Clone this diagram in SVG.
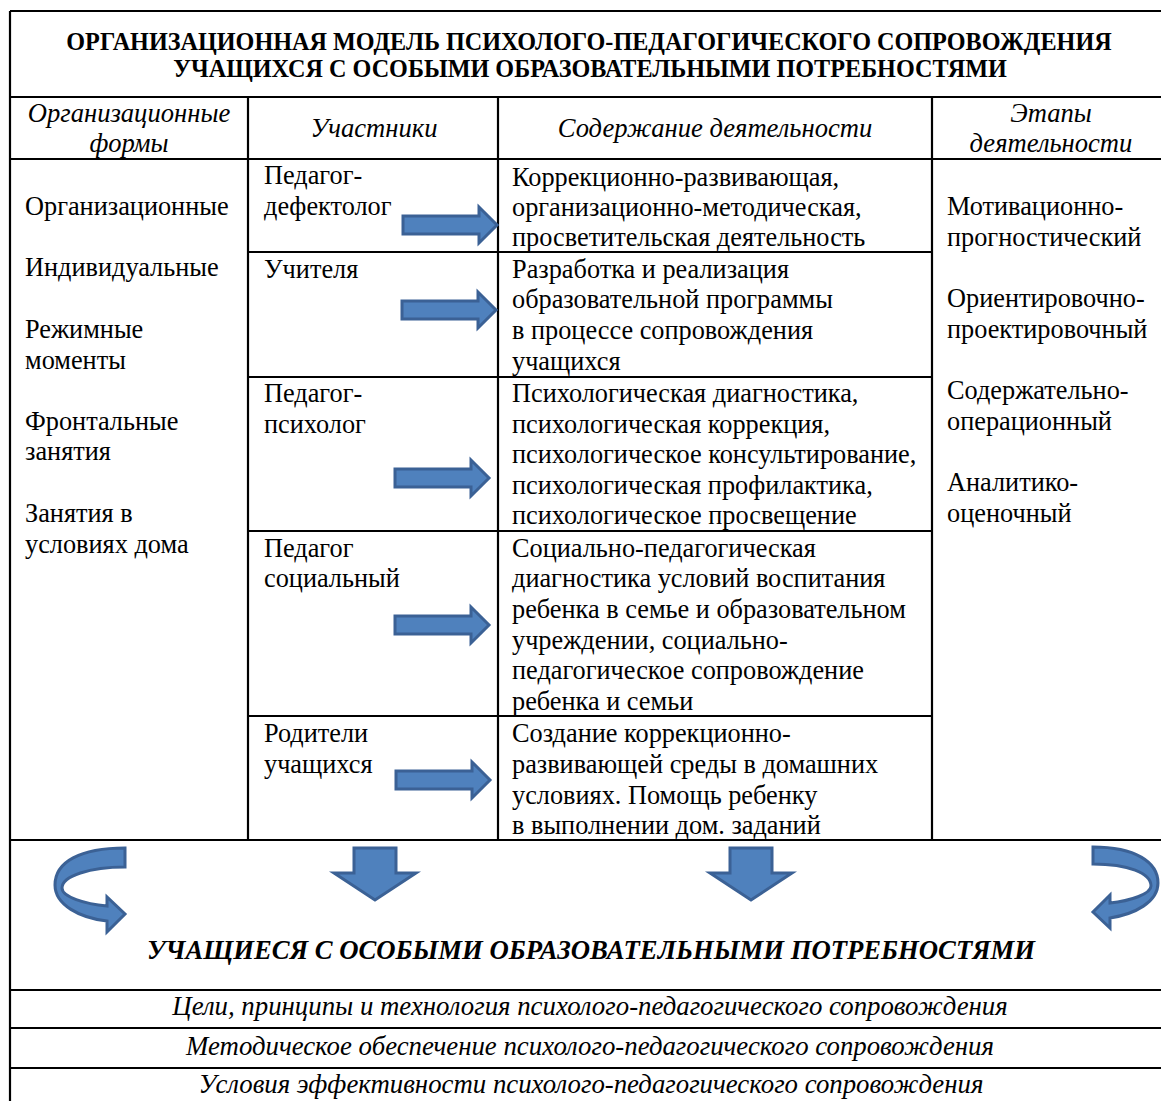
<svg xmlns="http://www.w3.org/2000/svg" width="1161" height="1101" viewBox="0 0 1161 1101">
<style>
.t{font-family:"Liberation Serif","Times New Roman",serif;font-size:26.3px;fill:#000}
.h{font-family:"Liberation Serif","Times New Roman",serif;font-size:26.6px;font-style:italic;fill:#000}
.ttl{font-family:"Liberation Serif","Times New Roman",serif;font-size:24.2px;font-weight:bold;fill:#000}
.big{font-family:"Liberation Serif","Times New Roman",serif;font-size:26.7px;font-weight:bold;font-style:italic;fill:#000}
.f{font-family:"Liberation Serif","Times New Roman",serif;font-size:26.8px;font-style:italic;fill:#000}
.ln{stroke:#000;stroke-width:2.2;fill:none}
.ar{fill:#4F81BD;stroke:#3B6195;stroke-width:3;stroke-linejoin:miter}
</style>
<defs>
<path id="ra" d="M0,-9 L76,-9 L76,-18 L94,0 L76,18 L76,9 L0,9 Z"/>
<path id="da" d="M-21,0 L21,0 L21,25 L41,25 L0,52 L-41,25 L-21,25 Z"/>
</defs>
<rect width="1161" height="1101" fill="#fff"/>
<g id="grid">
<path class="ln" d="M10,11 H1161 M10,11 V1101 M10,97 H1161 M10,159 H1161 M248,97 V840 M498,97 V840 M932,97 V840 M248,252 H932 M248,377 H932 M248,531 H932 M248,716 H932 M10,840 H1161 M10,990 H1161 M10,1028 H1161 M10,1068 H1161"/>
</g>
<g id="title">
<text class="ttl" x="589" y="50" text-anchor="middle">ОРГАНИЗАЦИОННАЯ МОДЕЛЬ ПСИХОЛОГО-ПЕДАГОГИЧЕСКОГО СОПРОВОЖДЕНИЯ</text>
<text class="ttl" x="590" y="77" text-anchor="middle">УЧАЩИХСЯ С ОСОБЫМИ ОБРАЗОВАТЕЛЬНЫМИ ПОТРЕБНОСТЯМИ</text>
</g>
<g id="head-forms"><text class="h" x="129" y="122" text-anchor="middle">Организационные</text><text class="h" x="129" y="152" text-anchor="middle">формы</text></g>
<g id="head-part"><text class="h" x="374" y="137" text-anchor="middle">Участники</text></g>
<g id="head-content"><text class="h" x="715" y="137" text-anchor="middle">Содержание деятельности</text></g>
<g id="head-stages"><text class="h" x="1051" y="122" text-anchor="middle">Этапы</text><text class="h" x="1051" y="152" text-anchor="middle">деятельности</text></g>
<g id="forms">
<text class="t" x="25" y="215">Организационные</text>
<text class="t" x="25" y="276">Индивидуальные</text>
<text class="t" x="25" y="338">Режимные</text>
<text class="t" x="25" y="369">моменты</text>
<text class="t" x="25" y="430">Фронтальные</text>
<text class="t" x="25" y="460">занятия</text>
<text class="t" x="25" y="522">Занятия в</text>
<text class="t" x="25" y="553">условиях дома</text>
</g>
<g id="p1"><text class="t" x="264" y="184">Педагог-</text><text class="t" x="264" y="215">дефектолог</text></g>
<g id="p2"><text class="t" x="264" y="278">Учителя</text></g>
<g id="p3"><text class="t" x="264" y="402">Педагог-</text><text class="t" x="264" y="433">психолог</text></g>
<g id="p4"><text class="t" x="264" y="557">Педагог</text><text class="t" x="264" y="587">социальный</text></g>
<g id="p5"><text class="t" x="264" y="742">Родители</text><text class="t" x="264" y="773">учащихся</text></g>
<g id="c1">
<text class="t" x="512" y="186">Коррекционно-развивающая,</text>
<text class="t" x="512" y="216">организационно-методическая,</text>
<text class="t" x="512" y="246">просветительская деятельность</text>
</g>
<g id="c2">
<text class="t" x="512" y="278">Разработка и реализация</text>
<text class="t" x="512" y="308">образовательной программы</text>
<text class="t" x="512" y="339">в процессе сопровождения</text>
<text class="t" x="512" y="370">учащихся</text>
</g>
<g id="c3">
<text class="t" x="512" y="402">Психологическая диагностика,</text>
<text class="t" x="512" y="433">психологическая коррекция,</text>
<text class="t" x="512" y="463">психологическое консультирование,</text>
<text class="t" x="512" y="494">психологическая профилактика,</text>
<text class="t" x="512" y="524">психологическое просвещение</text>
</g>
<g id="c4">
<text class="t" x="512" y="557">Социально-педагогическая</text>
<text class="t" x="512" y="587">диагностика условий воспитания</text>
<text class="t" x="512" y="618">ребенка в семье и образовательном</text>
<text class="t" x="512" y="649">учреждении, социально-</text>
<text class="t" x="512" y="679">педагогическое сопровождение</text>
<text class="t" x="512" y="710">ребенка и семьи</text>
</g>
<g id="c5">
<text class="t" x="512" y="742">Создание коррекционно-</text>
<text class="t" x="512" y="773">развивающей среды в домашних</text>
<text class="t" x="512" y="804">условиях. Помощь ребенку</text>
<text class="t" x="512" y="834">в выполнении дом. заданий</text>
</g>
<g id="stages">
<text class="t" x="947" y="215">Мотивационно-</text>
<text class="t" x="947" y="246">прогностический</text>
<text class="t" x="947" y="307">Ориентировочно-</text>
<text class="t" x="947" y="338">проектировочный</text>
<text class="t" x="947" y="399">Содержательно-</text>
<text class="t" x="947" y="430">операционный</text>
<text class="t" x="947" y="491">Аналитико-</text>
<text class="t" x="947" y="522">оценочный</text>
</g>
<g id="students"><text class="big" x="591" y="959" text-anchor="middle">УЧАЩИЕСЯ С ОСОБЫМИ ОБРАЗОВАТЕЛЬНЫМИ ПОТРЕБНОСТЯМИ</text></g>
<g id="goals"><text class="f" x="590" y="1015" text-anchor="middle">Цели, принципы и технология психолого-педагогического сопровождения</text></g>
<g id="methods"><text class="f" x="590" y="1055" text-anchor="middle">Методическое обеспечение психолого-педагогического сопровождения</text></g>
<g id="conditions"><text class="f" x="591" y="1093" text-anchor="middle">Условия эффективности психолого-педагогического сопровождения</text></g>
<g id="connectors">
<use href="#ra" class="ar" x="403" y="225"/>
<use href="#ra" class="ar" x="402" y="310"/>
<use href="#ra" class="ar" x="395" y="478"/>
<use href="#ra" class="ar" x="395" y="625"/>
<use href="#ra" class="ar" x="396" y="780"/>
<use href="#da" class="ar" x="375" y="848"/>
<use href="#da" class="ar" x="751" y="848"/>
<path class="ar" d="M125,848 C80,848 55,862 55,885 C55,905 80,918 107,921 L107,932 L125,914 L107,897 L107,906 C85,904 62,897 62,888 C62,876 90,867 125,867 Z"/>
<path class="ar" d="M1093,847 C1135,847 1158,862 1158,883 C1158,902 1135,914 1110,918 L1110,928 L1093,912 L1110,895 L1110,903 C1130,901 1151,894 1151,886 C1151,873 1128,864 1093,864 Z"/>
</g>
</svg>
